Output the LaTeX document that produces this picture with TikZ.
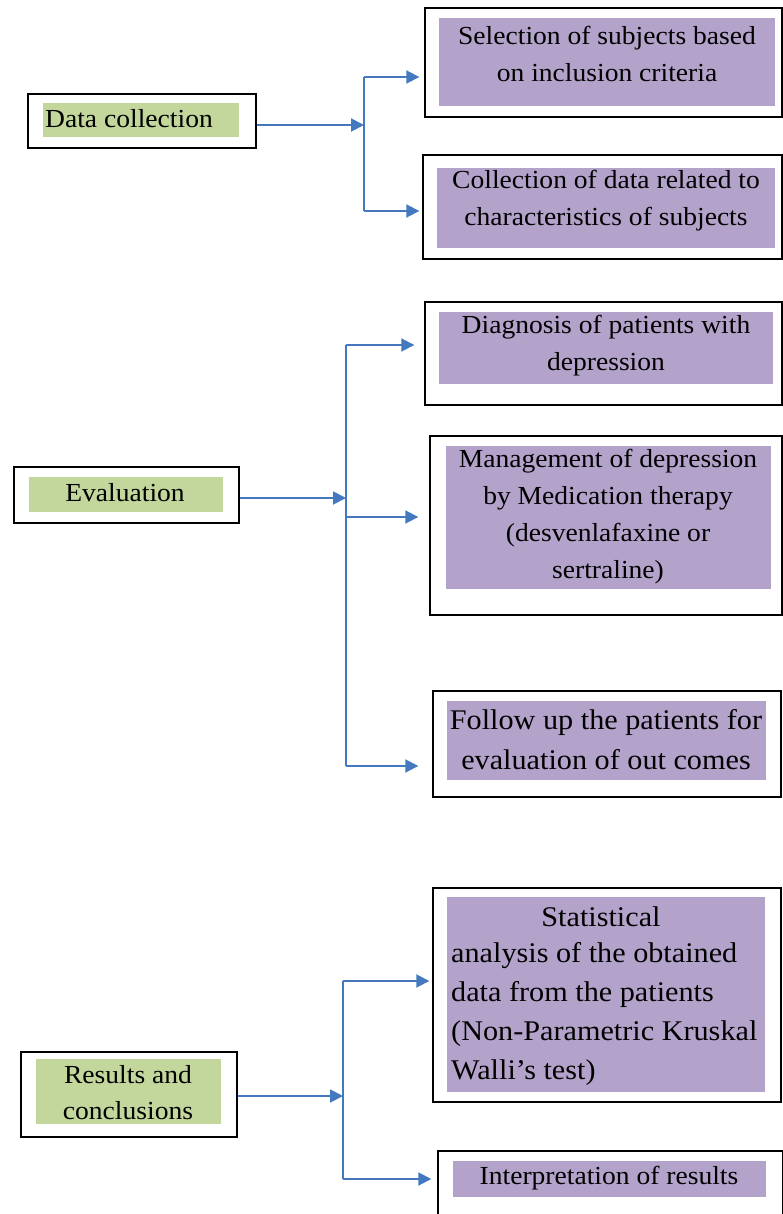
\documentclass[tikz,border=0pt]{standalone}
\usepackage{fontspec}
\setmainfont{Liberation Serif}[FakeStretch=1.06]
\usetikzlibrary{arrows.meta}
\definecolor{purp}{HTML}{B3A3CB}
\definecolor{grn}{HTML}{C3D69B}
\definecolor{arrblue}{HTML}{4579BF}
\tikzset{
  outerbox/.style={draw=black, line width=1.4pt, inner sep=0pt, minimum width=#1},
  purpbox/.style={fill=purp, inner sep=0pt, minimum width=#1},
  grnbox/.style={fill=grn, inner sep=0pt, minimum width=#1},
  txt/.style={inner sep=0pt, align=center, font=\fontsize{26}{37}\selectfont},
  bigtxt/.style={inner sep=0pt, font=\fontsize{28.5}{39}\selectfont},
  arr/.style={draw=arrblue, line width=1.9pt, -{Triangle[length=13pt,width=13pt]}},
  ln/.style={draw=arrblue, line width=1.9pt}
}
\begin{document}
\begin{tikzpicture}[x=1pt,y=-1pt]
\useasboundingbox[fill=white] (0,0) rectangle (783,1214);

% ---------------- Section 1 ----------------
\node[outerbox=228, minimum height=54] (dcO) at (142,121) {};
\node[grnbox=196, minimum height=34] (dcG) at (141,120) {};
\node[txt, anchor=west] (dcT) at (45,119) {Data collection};

\node[outerbox=357, minimum height=109] (b1O) at (603.5,62.5) {};
\node[purpbox=336, minimum height=88] (b1P) at (607,62) {};
\node[txt] (b1T) at (607,54) {Selection of subjects based\\on inclusion criteria};

\node[outerbox=359, minimum height=104] (b2O) at (602.5,207) {};
\node[purpbox=338, minimum height=80] (b2P) at (606,208) {};
\node[txt] (b2T) at (606,201) {Collection of data related to\\characteristics of subjects};

\coordinate (j1) at (364,125);
\coordinate (j1t) at (364,77);
\coordinate (j1b) at (364,211);
\draw[ln] (j1t) -- (j1b);
\draw[arr] (dcO.east |- j1) -- (j1);
\draw[arr] (j1t) -- ([xshift=-5pt]j1t -| b1O.west);
\draw[arr] (j1b) -- ([xshift=-3pt]j1b -| b2O.west);

% ---------------- Section 2 ----------------
\node[outerbox=225, minimum height=56] (evO) at (126.5,495) {};
\node[grnbox=194, minimum height=35] (evG) at (126,494.5) {};
\node[txt] (evT) at (125,493) {Evaluation};

\node[outerbox=357, minimum height=103] (b3O) at (603.5,353.5) {};
\node[purpbox=334, minimum height=72] (b3P) at (606,348) {};
\node[txt] (b3T) at (606,346) {Diagnosis of patients with\\depression};

\node[outerbox=352, minimum height=179] (b4O) at (606,525.5) {};
\node[purpbox=325, minimum height=143] (b4P) at (608.5,517.5) {};
\node[txt] (b4T) at (608,517) {Management of depression\\by Medication therapy\\(desvenlafaxine or\\sertraline)};

\node[outerbox=348, minimum height=106] (b5O) at (607,744) {};
\node[purpbox=319, minimum height=79] (b5P) at (606.5,740.5) {};
\node[bigtxt, align=center, font=\fontsize{28.5}{40}\selectfont] (b5T) at (606,740) {Follow up the patients for\\evaluation of out comes};

\coordinate (j2) at (346,498);
\coordinate (j2t) at (346,345);
\coordinate (j2m) at (346,517);
\coordinate (j2b) at (346,766);
\draw[ln] (j2t) -- (j2b);
\draw[arr] (evO.east |- j2) -- (j2);
\draw[arr] (j2t) -- ([xshift=-10pt]j2t -| b3O.west);
\draw[arr] (j2m) -- ([xshift=-11pt]j2m -| b4O.west);
\draw[arr] (j2b) -- ([xshift=-14pt]j2b -| b5O.west);

% ---------------- Section 3 ----------------
\node[outerbox=216, minimum height=85] (rcO) at (129,1094.5) {};
\node[grnbox=185, minimum height=65] (rcG) at (128.5,1091.5) {};
\node[txt, font=\fontsize{26}{36}\selectfont] (rcT) at (128,1093) {Results and\\conclusions};

\node[outerbox=348, minimum height=214] (b6O) at (607,995) {};
\node[purpbox=318, minimum height=195] (b6P) at (606,994.5) {};
\node[bigtxt] (b6T1) at (601,917) {Statistical};
\node[bigtxt, anchor=west, align=left] (b6T2) at (451,1014) {analysis of the obtained\\data from the patients\\(Non-Parametric Kruskal\\Walli’s test)};

\node[outerbox=345, minimum height=80] (b7O) at (610.5,1191) {};
\node[purpbox=313, minimum height=36] (b7P) at (609.5,1179) {};
\node[txt] (b7T) at (609,1178) {Interpretation of results};

\coordinate (j3) at (343,1096);
\coordinate (j3t) at (343,981);
\coordinate (j3b) at (343,1179);
\draw[ln] (j3t) -- (j3b);
\draw[arr] (rcO.east |- j3) -- (j3);
\draw[arr] (j3t) -- ([xshift=-3pt]j3t -| b6O.west);
\draw[arr] (j3b) -- ([xshift=-6pt]j3b -| b7O.west);
\end{tikzpicture}
\end{document}
